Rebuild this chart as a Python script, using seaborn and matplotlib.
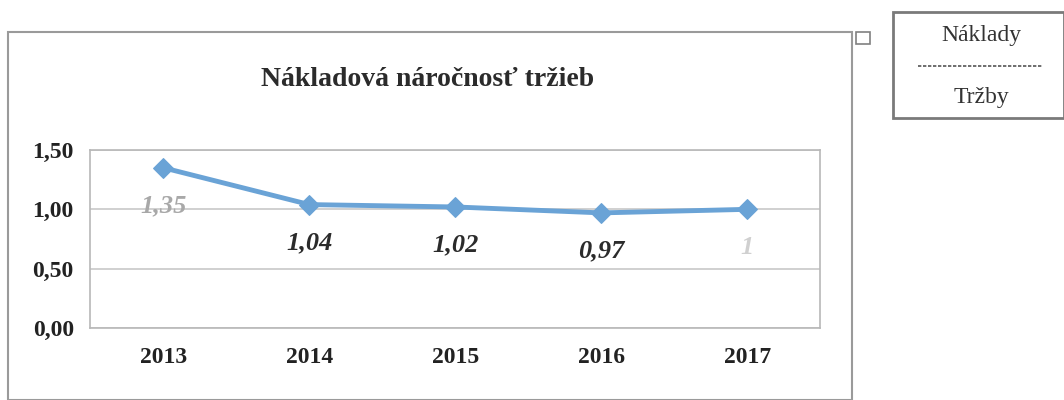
import pandas as pd
import numpy as np
import matplotlib.pyplot as plt
import seaborn as sns
from matplotlib.patches import Rectangle
from matplotlib.lines import Line2D

sns.set_style("white")
plt.rcParams['font.family'] = ['Liberation Serif', 'DejaVu Serif']

years = ['2013', '2014', '2015', '2016', '2017']
ratio = [1.35, 1.04, 1.02, 0.97, 1.00]
labels = ['1,35', '1,04', '1,02', '0,97', '1']
label_colors = ['#a8a8a8', '#2b2b2b', '#2b2b2b', '#2b2b2b', '#d0d0d0']
yticks = [0.0, 0.5, 1.0, 1.5]
ytick_labels = ['0,00', '0,50', '1,00', '1,50']
legend_top = 'Náklady'
legend_bottom = 'Tržby'

df = pd.DataFrame({'Rok': years, 'Pomer': ratio})
df['x'] = np.arange(len(years))

fig = plt.figure(figsize=(10.64, 4), dpi=100)
ax = fig.add_axes([0.085, 0.18, 0.686, 0.445])

sns.lineplot(data=df, x='x', y='Pomer', ax=ax, color='#6aa3d6', linewidth=3.5,
             marker='D', markersize=10, markeredgecolor='#6aa3d6')

ax.set_xlim(-0.5, len(years) - 0.5)
ax.set_ylim(0, 1.5)
ax.set_xticks(df['x'])
ax.set_xticklabels(years, fontsize=17, fontweight='bold', color='#222222')
ax.set_yticks(yticks)
ax.set_yticklabels(ytick_labels, fontsize=17, fontweight='bold', color='#222222')
ax.tick_params(axis='x', pad=14, length=0)
ax.tick_params(axis='y', pad=12, length=0)
ax.set_xlabel('')
ax.set_ylabel('')
ax.grid(axis='y', color='#c8c8c8', linewidth=1.2)
for s in ax.spines.values():
    s.set_color('#b8b8b8')
    s.set_linewidth(1.2)

for xi, yi, lab, c in zip(df['x'], ratio, labels, label_colors):
    ax.annotate(lab, (xi, yi), xytext=(0, -38), textcoords='offset pixels',
                ha='center', va='center', fontsize=19, fontweight='bold',
                fontstyle='italic', color=c)

fig.text(0.402, 0.80, 'Nákladová náročnosť tržieb', ha='center', va='center',
         fontsize=20, fontweight='bold', color='#2b2b2b')

# chart border
fig.add_artist(Rectangle((8 / 1064, 0.0), 844 / 1064, 368 / 400, transform=fig.transFigure,
                         fill=False, edgecolor='#9a9a9a', linewidth=1.5))
# small icon
fig.add_artist(Rectangle((856 / 1064, 1 - 44 / 400), 14 / 1064, 12 / 400, transform=fig.transFigure,
                         fill=False, edgecolor='#808080', linewidth=1.2))

# legend box
fig.add_artist(Rectangle((893 / 1064, 1 - 118 / 400), 171 / 1064, 106 / 400, transform=fig.transFigure,
                         fill=False, edgecolor='#7a7a7a', linewidth=2))
fig.text(981 / 1064, 1 - 35 / 400, legend_top, ha='center', va='center',
         fontsize=17, color='#333333')
fig.text(981 / 1064, 1 - 97 / 400, legend_bottom, ha='center', va='center',
         fontsize=17, color='#333333')
fig.add_artist(Line2D([918 / 1064, 1042 / 1064], [1 - 66 / 400, 1 - 66 / 400],
                      transform=fig.transFigure, color='#555555', linewidth=1.2,
                      linestyle=(0, (2, 1))))

fig.savefig('out.png', dpi=100)
